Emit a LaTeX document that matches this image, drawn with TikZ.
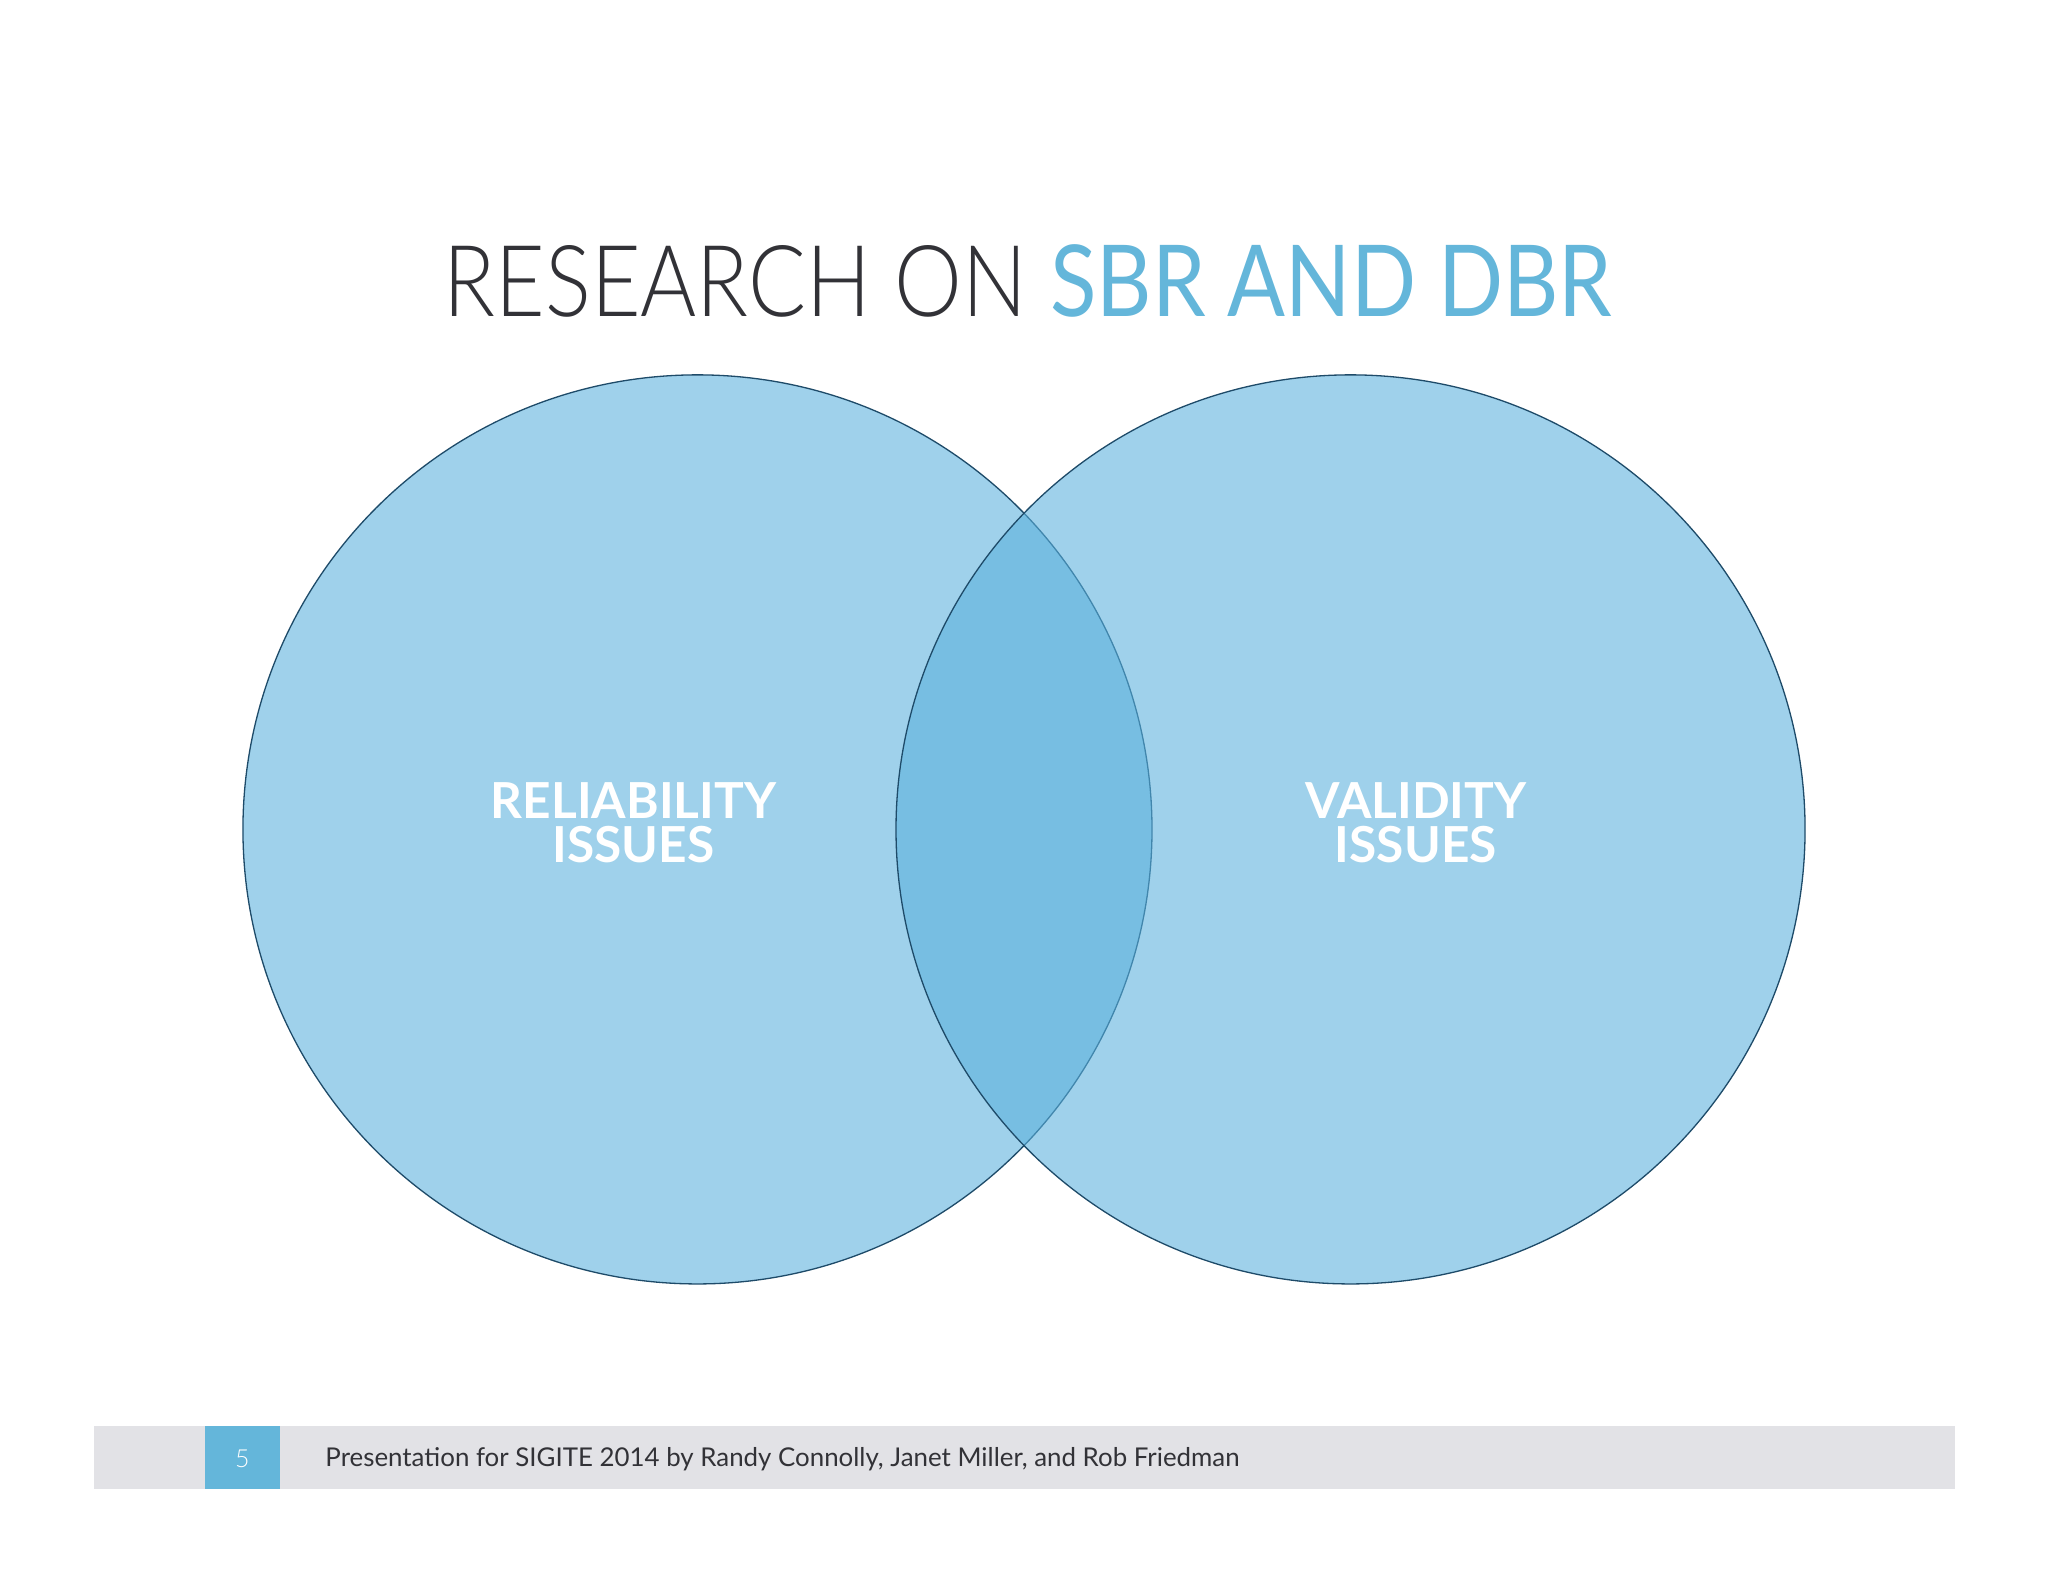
\documentclass[tikz,border=0pt]{standalone}
\usepackage{fontspec}
\usepackage{graphicx}
\setmainfont{Lato}
\newfontfamily\lightfont{Lato Light}
\definecolor{vfill}{RGB}{91,177,221}
\definecolor{vedge}{RGB}{30,75,105}
\definecolor{ttl}{RGB}{100,182,218}
\definecolor{dk}{RGB}{50,50,55}
\definecolor{bar}{RGB}{226,226,230}
\begin{document}
\begin{tikzpicture}[x=1pt,y=-1pt,
  venn/.style={circle,minimum size=696pt,inner sep=0pt,fill=vfill,fill opacity=0.58,draw=vedge,line width=1pt},
  lbl/.style={text=white,font=\fontsize{38}{34}\selectfont\bfseries,align=center}]
\useasboundingbox (0,0) rectangle (1568,1211);
\fill[white] (0,0) rectangle (1568,1211);
\node[font=\lightfont\fontsize{76}{80}\selectfont,text=dk] (title) at (787,215) {\scalebox{0.863}[1]{RESEARCH ON \textcolor{ttl}{\fontspec{Lato}SBR AND DBR}}};
\node[venn] (L) at (534,635) {};
\node[venn] (R) at (1034,635) {};
\node[lbl] (l1) at (485,630) {RELIABILITY\\ISSUES};
\node[lbl] (l2) at (1084,630) {VALIDITY\\ISSUES};
\fill[bar] (72,1092) rectangle (1497,1140);
\fill[ttl] (157,1092) rectangle (214,1140);
\node[text=white,font=\lightfont\fontsize{19}{20}\selectfont] (pg) at (185.5,1117) {5};
\node[anchor=west,text=dk,font=\fontsize{19.8}{21}\selectfont,inner sep=0pt] (ft) at (249,1117) {Presentation for SIGITE 2014 by Randy Connolly, Janet Miller, and Rob Friedman};
\end{tikzpicture}
\end{document}
